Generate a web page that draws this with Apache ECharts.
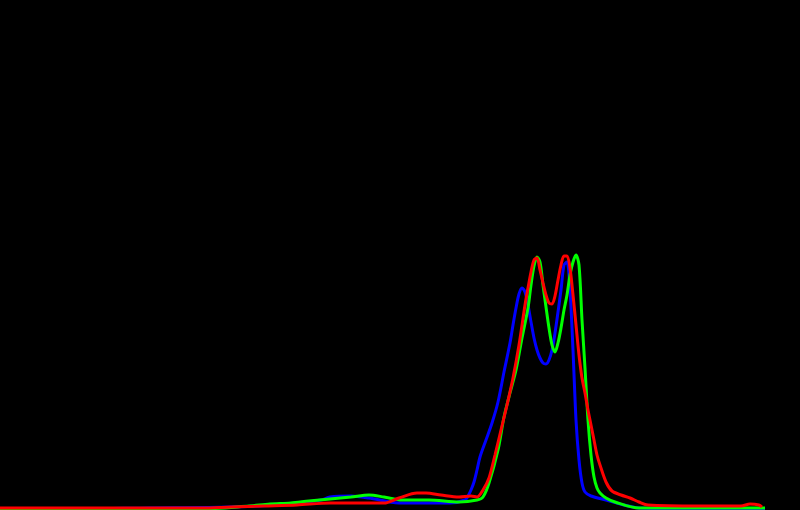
<!DOCTYPE html>
<html>
<head>
<meta charset="utf-8">
<script src="https://cdn.jsdelivr.net/npm/echarts@6/dist/echarts.min.js"></script>
<style>
html,body{margin:0;padding:0;background:#000;}
#chart{width:800px;height:510px;}
</style>
</head>
<body>
<div id="chart"></div>
<script>
// Histogram per colour channel: bin index (0-255) and count (relative height)
const blueBins   = [0,20,50,77,97,107,110,117,123,133,143,150,155,156,157,158,159,160,162,164,166,168,170,171,172,173,174,175,176,177,178,179,180,181,182,183,184,185,186,187,188,189,190,191,192,193,194,195,197,202,208,213,233,255];
const blueCounts = [1,1,2,3,6,10,13,14,12,7,7,7,10,14,20,28,40,53,70,87,108,138,167,185,202,216,222,218,205,188,172,160,152,147,146,150,160,177,198,220,245,248,220,160,90,50,27,18,14,10,5,2,1,1];

const greenBins   = [0,67,83,90,97,103,110,117,123,128,134,143,153,159,161,163,166,168,170,172,174,176,177,178,179,180,181,182,183,184,185,186,187,188,189,190,191,192,193,194,195,196,197,198,199,200,202,205,213,255];
const greenCounts = [1,1,4,6,7,9,11,13,15,13,10,10,8,10,13,27,60,93,117,140,172,202,225,244,253,248,225,203,182,165,158,167,182,200,215,235,248,255,245,190,142,90,55,33,22,17,12,8,2,2];

const redBins   = [0,67,77,88,99,110,120,128,133,139,142,147,153,157,159,161,163,165,167,169,171,173,175,176,177,178,179,180,181,182,183,184,185,186,187,188,189,190,191,192,193,194,195,196,197,198,199,200,202,204,207,210,213,216,233,247,250,253,254];
const redCounts = [2,2,3,4,5,7,7,7,12,17,17,15,13,14,13,20,32,55,80,105,132,165,205,222,238,250,252,240,227,215,207,206,214,230,245,254,254,242,215,185,155,132,117,100,85,70,55,45,28,19,15,12,8,5,4,4,6,5,3];

function pairs(xs, ys){ return xs.map((x,i)=>[x, ys[i]]); }

const chart = echarts.init(document.getElementById('chart'), null, {renderer:'canvas'});
const mk = (name, color, xs, ys) => ({
  name, type:'line', data: pairs(xs, ys), smooth: 0.3, symbol:'none',
  lineStyle:{color, width:3}, itemStyle:{color}
});
chart.setOption({
  backgroundColor:'#000000',
  animation:false,
  grid:{left:0,right:0,top:0,bottom:0},
  xAxis:{type:'value', min:0, max:800/3, show:false},
  yAxis:{type:'value', min:0, max:510, show:false},
  series:[
    mk('Blue','#0000ff', blueBins, blueCounts),
    mk('Green','#00ff00', greenBins, greenCounts),
    mk('Red','#ff0000', redBins, redCounts)
  ]
});
</script>
</body>
</html>
